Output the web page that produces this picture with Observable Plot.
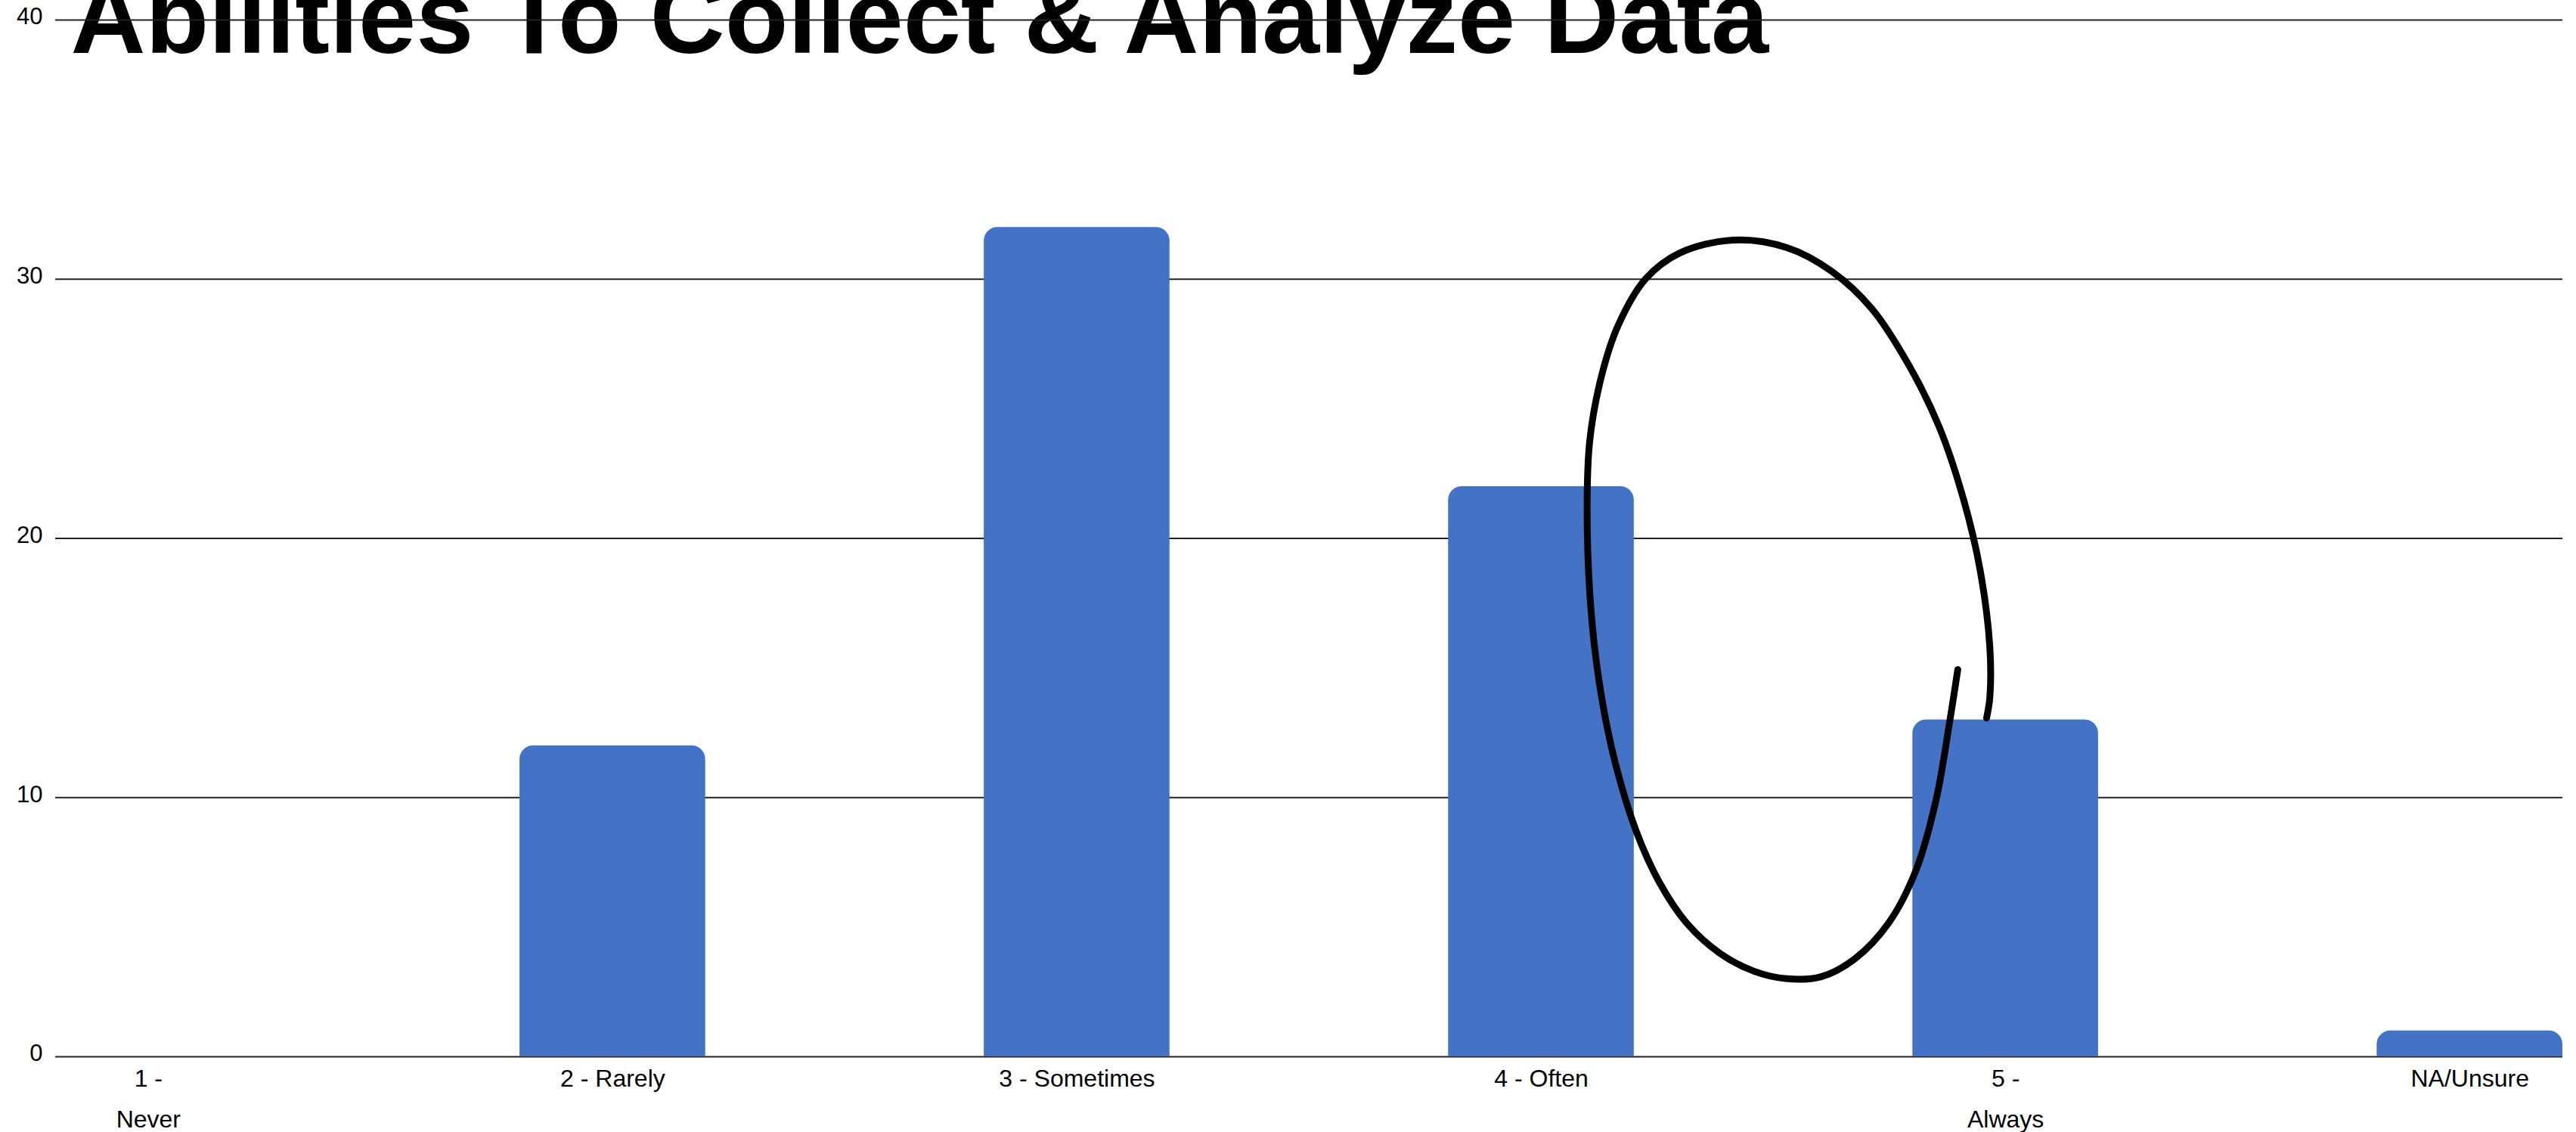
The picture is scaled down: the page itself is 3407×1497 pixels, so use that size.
<!DOCTYPE html>
<html><head><meta charset="utf-8">
<script src="https://cdn.jsdelivr.net/npm/d3@7"></script>
<script src="https://cdn.jsdelivr.net/npm/@observablehq/plot@0.6"></script>
<style>html,body{margin:0;padding:0;background:#fff}</style>
</head><body><div id="chart"></div>
<script>
const title = "Abilities To Collect & Analyze Data";
const categories = ["1 - Never", "2 - Rarely", "3 - Sometimes", "4 - Often", "5 - Always", "NA/Unsure"];
const tickLabels = ["1 -\nNever", "2 - Rarely", "3 - Sometimes", "4 - Often", "5 -\nAlways", "NA/Unsure"];
const counts = [0, 12, 32, 22, 13, 1];
const yTicks = [0, 10, 20, 30, 40];
// hand-drawn annotation loop, in category-index units (x) and count units (y)
const circleX = [3.897, 3.879, 3.850, 3.806, 3.748, 3.676, 3.603, 3.529, 3.458, 3.384, 3.313, 3.254, 3.204, 3.160, 3.130, 3.109, 3.099, 3.104, 3.130, 3.166, 3.225, 3.298, 3.414, 3.529, 3.625, 3.712, 3.792, 3.857, 3.909, 3.945, 3.966, 3.966, 3.959];
const circleY = [14.94, 12.87, 9.89, 7.15, 5.16, 3.79, 3.09, 3.01, 3.30, 4.00, 5.16, 6.74, 8.72, 11.29, 13.86, 16.81, 20.36, 23.72, 26.29, 28.24, 30.02, 31.01, 31.51, 31.22, 30.31, 28.86, 26.67, 24.30, 21.53, 18.79, 15.81, 13.86, 13.07];

const bars = categories.map((c, i) => ({i, c, n: counts[i]}));
const circle = circleX.map((x, k) => ({x, y: circleY[k]}));
const half = 0.2;

const chart = Plot.plot({
  width: 3407, height: 1497,
  marginTop: 26, marginBottom: 100, marginLeft: 73, marginRight: 18,
  style: {fontFamily: "'Liberation Sans', Arial, sans-serif", fontSize: "31px", color: "#000", background: "#fff"},
  x: {type: "linear", domain: [-0.2, 5.2], axis: null, label: null},
  y: {domain: [0, 40], axis: null, label: null},
  marks: [
    Plot.text([title], {frameAnchor: "top-left", dx: 20, dy: 43, lineAnchor: "bottom", textAnchor: "start", fontSize: 137, fontWeight: "bold", fill: "#000"}),
    Plot.ruleY(yTicks, {stroke: "#222", strokeWidth: 2}),
    Plot.rectY(bars, {x1: d => d.i - half, x2: d => d.i + half, y1: 0, y2: "n", fill: "#4472c4", ry2: 18}),
    Plot.axisY({ticks: yTicks, tickSize: 0, tickPadding: 17, dy: -4, fontSize: 31, fill: "#000", label: null}),
    Plot.axisX({ticks: categories.map((c, i) => i), tickFormat: i => tickLabels[i], tickSize: 0, tickPadding: 1, lineHeight: 1.69, fontSize: 32, fill: "#000", label: null}),
    Plot.line(circle, {x: "x", y: "y", curve: "catmull-rom", stroke: "#000", strokeWidth: 9, strokeLinecap: "round"})
  ]
});
document.getElementById("chart").appendChild(chart);
</script>
</body></html>
